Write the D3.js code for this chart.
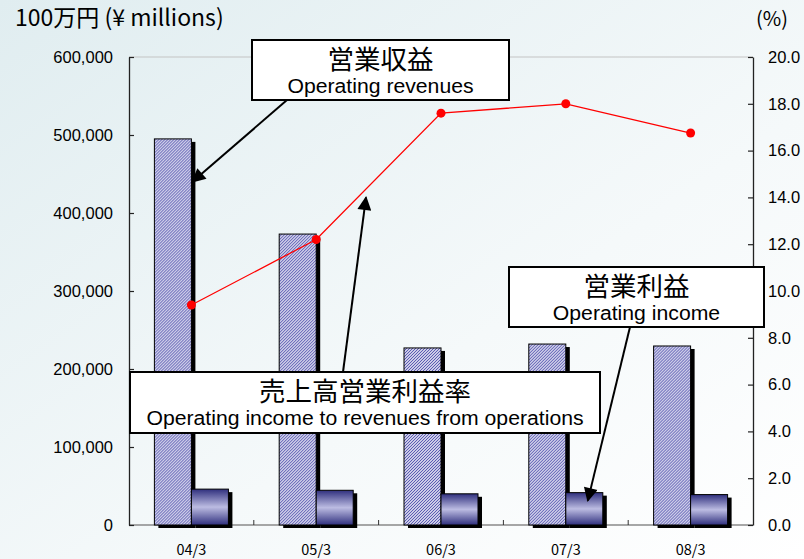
<!DOCTYPE html>
<html>
<head>
<meta charset="utf-8">
<script src="https://cdn.jsdelivr.net/npm/d3@7"></script>
<style>
  body { margin: 0; background: #fff; }
  svg { display: block; }
</style>
</head>
<body>
<script>
(function(){

    //chart data
    var categories = ["04/3", "05/3", "06/3", "07/3", "08/3"];
    var revenues = [495000, 373000, 227000, 232000, 229500];   //営業収益
    var income = [46000, 44500, 40000, 41500, 39000];           //営業利益
    var ratio = [9.4, 12.2, 17.6, 18.0, 16.75];                 //売上高営業利益率 (%)
    var leftTicks = [0, 100000, 200000, 300000, 400000, 500000, 600000];
    var rightTicks = [0, 2, 4, 6, 8, 10, 12, 14, 16, 18, 20];

    var width = 804, height = 559;
    var left = 129, right = 753, top = 57, bottom = 525;
    var jpFont = '"Noto Sans CJK JP", sans-serif',
        enFont = '"Liberation Sans", Arial, sans-serif';

    var svg = d3.select("body").append("svg")
        .attr("width", width)
        .attr("height", height);

    var defs = svg.append("defs");

    //background gradient
    var bg = defs.append("linearGradient").attr("id", "bg")
        .attr("x1", 0).attr("y1", 0).attr("x2", 1).attr("y2", 1);
    bg.append("stop").attr("offset", "0%").attr("stop-color", "#e0edf0");
    bg.append("stop").attr("offset", "60%").attr("stop-color", "#f5f9fa");
    bg.append("stop").attr("offset", "100%").attr("stop-color", "#ffffff");

    //hatch for revenue bars
    var hatch = defs.append("pattern").attr("id", "hatch")
        .attr("patternUnits", "userSpaceOnUse")
        .attr("width", 3).attr("height", 3);
    hatch.append("rect").attr("width", 3).attr("height", 3).attr("fill", "#ffffff");
    hatch.append("path")
        .attr("d", "M0,3 L3,0 M-1,1 L1,-1 M2,4 L4,2")
        .attr("stroke", "#5454b0").attr("stroke-width", 1.15);

    //gradient for income bars
    var ig = defs.append("linearGradient").attr("id", "incGrad")
        .attr("x1", 0).attr("y1", 0).attr("x2", 0).attr("y2", 1);
    ig.append("stop").attr("offset", "0%").attr("stop-color", "#30307e");
    ig.append("stop").attr("offset", "50%").attr("stop-color", "#bcbce2");
    ig.append("stop").attr("offset", "100%").attr("stop-color", "#30307e");

    //arrow marker
    defs.append("marker").attr("id", "arrow")
        .attr("viewBox", "0 0 10 10")
        .attr("refX", 9).attr("refY", 5)
        .attr("markerWidth", 17).attr("markerHeight", 14)
        .attr("markerUnits", "userSpaceOnUse")
        .attr("orient", "auto")
      .append("path").attr("d", "M0,0 L10,5 L0,10 Z").attr("fill", "#000");

    svg.append("rect").attr("width", width).attr("height", height).attr("fill", "url(#bg)");

    //scales
    var x0 = d3.scaleBand().domain(categories).range([left, right])
        .paddingInner(0.407).paddingOuter(0.2035);
    var x1 = d3.scaleBand().domain(["rev", "inc"]).range([0, x0.bandwidth()]);
    var yL = d3.scaleLinear().domain([0, 600000]).range([bottom, top]);
    var yR = d3.scaleLinear().domain([0, 20]).range([bottom, top]);

    //top gridline and baseline
    svg.append("line").attr("x1", left).attr("x2", right)
        .attr("y1", yL(600000)).attr("y2", yL(600000))
        .attr("stroke", "#c4c4c4").attr("stroke-width", 1.2);
    svg.append("line").attr("x1", left).attr("x2", right)
        .attr("y1", yL(0)).attr("y2", yL(0))
        .attr("stroke", "#8a8a8a").attr("stroke-width", 1.5);

    //x ticks at group boundaries
    svg.selectAll(".xtick")
        .data(categories.slice(1))
        .enter().append("line")
        .attr("class", "xtick")
        .attr("x1", function(d){ return x0(d) - (x0.step() - x0.bandwidth()) / 2; })
        .attr("x2", function(d){ return x0(d) - (x0.step() - x0.bandwidth()) / 2; })
        .attr("y1", yL(0)).attr("y2", yL(0) - 5)
        .attr("stroke", "#333").attr("stroke-width", 1);

    //bars
    var groups = svg.selectAll(".grp")
        .data(categories)
        .enter().append("g")
        .attr("class", "grp")
        .attr("transform", function(d){ return "translate(" + x0(d) + ",0)"; });

    function drawBars(values, key, fill){
        //drop shadow
        groups.append("rect")
            .attr("x", x1(key) + 4)
            .attr("y", function(d, i){ return yL(values[i]) + 3; })
            .attr("width", x1.bandwidth())
            .attr("height", function(d, i){ return yL(0) - yL(values[i]); })
            .attr("fill", "#000");
        groups.append("rect")
            .attr("x", x1(key))
            .attr("y", function(d, i){ return yL(values[i]); })
            .attr("width", x1.bandwidth())
            .attr("height", function(d, i){ return yL(0) - yL(values[i]); })
            .attr("fill", fill)
            .attr("stroke", "#000").attr("stroke-width", 1);
    }
    drawBars(revenues, "rev", "url(#hatch)");
    drawBars(income, "inc", "url(#incGrad)");

    //axes
    var axisL = svg.append("g").attr("transform", "translate(" + left + ",0)")
        .call(d3.axisLeft(yL).tickValues(leftTicks).tickSizeInner(-5).tickSizeOuter(0)
            .tickPadding(16).tickFormat(d3.format(",")));
    var axisR = svg.append("g").attr("transform", "translate(" + right + ",0)")
        .call(d3.axisRight(yR).tickValues(rightTicks).tickSizeInner(-5).tickSizeOuter(0)
            .tickPadding(15).tickFormat(d3.format(".1f")));
    [axisL, axisR].forEach(function(a){
        a.select(".domain").attr("stroke", "#222").attr("stroke-width", 1.3);
        a.selectAll(".tick line").attr("stroke", "#222").attr("stroke-width", 1.2);
        a.selectAll(".tick text").attr("font-size", 16.5).attr("fill", "#000")
            .attr("font-family", enFont);
    });

    //category labels
    svg.selectAll(".xlab")
        .data(categories)
        .enter().append("text")
        .attr("x", function(d){ return x0(d) + x0.bandwidth() / 2; })
        .attr("y", 555)
        .attr("text-anchor", "middle")
        .attr("font-family", jpFont)
        .attr("font-size", 14.5)
        .text(function(d){ return d; });

    //ratio line
    var line = d3.line()
        .x(function(d, i){ return x0(categories[i]) + x0.bandwidth() / 2; })
        .y(function(d){ return yR(d); });
    svg.append("path").datum(ratio)
        .attr("d", line)
        .attr("fill", "none")
        .attr("stroke", "#ff0000").attr("stroke-width", 1.3);
    svg.selectAll(".dot")
        .data(ratio)
        .enter().append("circle")
        .attr("cx", function(d, i){ return x0(categories[i]) + x0.bandwidth() / 2; })
        .attr("cy", function(d){ return yR(d); })
        .attr("r", 4.5)
        .attr("fill", "#ff0000");

    //axis titles
    svg.append("text").attr("x", 15).attr("y", 26)
        .attr("font-family", jpFont).attr("font-size", 23)
        .text("100万円 (¥ millions)");
    svg.append("text").attr("x", 756).attr("y", 26)
        .attr("font-family", jpFont).attr("font-size", 20)
        .text("(%)");

    //callouts
    function callout(x, y, w, h, jp, en, ax1, ay1, ax2, ay2){
        svg.append("line")
            .attr("x1", ax1).attr("y1", ay1).attr("x2", ax2).attr("y2", ay2)
            .attr("stroke", "#000").attr("stroke-width", 2)
            .attr("marker-end", "url(#arrow)");
        svg.append("rect").attr("x", x).attr("y", y).attr("width", w).attr("height", h)
            .attr("fill", "#fff").attr("stroke", "#000").attr("stroke-width", 2);
        svg.append("text").attr("x", x + w / 2).attr("y", y + 29)
            .attr("text-anchor", "middle").attr("font-family", jpFont).attr("font-size", 26.5)
            .text(jp);
        var t = svg.append("text").attr("x", x + w / 2).attr("y", y + 53)
            .attr("text-anchor", "middle").attr("font-family", enFont).attr("font-size", 20)
            .text(en);
        //reference text is slightly wide
        var len = t.node().getComputedTextLength();
        t.attr("textLength", len * 1.06).attr("lengthAdjust", "spacingAndGlyphs");
    }

    var c0 = x0(categories[0]), c3 = x0(categories[3]);
    callout(252, 40, 257, 60, "営業収益", "Operating revenues",
        287, 100, c0 + x1.bandwidth() + 1, yL(440000));
    callout(509, 267, 255, 60, "営業利益", "Operating income",
        630, 327, c3 + x1("inc") + 22, yL(income[3]) + 8);
    callout(130, 372, 470, 61, "売上高営業利益率", "Operating income to revenues from operations",
        343, 372, 366, yR(14.0));

})();
</script>
</body>
</html>
